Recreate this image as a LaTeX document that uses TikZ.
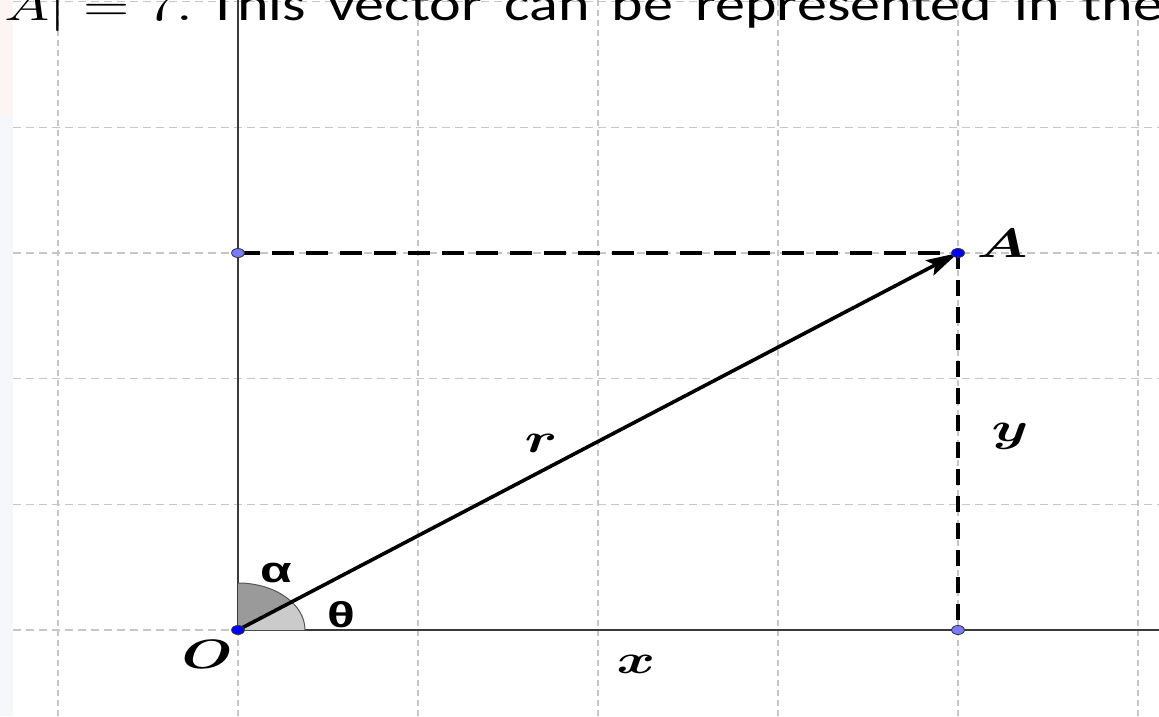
\documentclass[tikz,border=0pt]{standalone}
\usepackage{fontspec}
\usepackage{bm}
\usetikzlibrary{arrows.meta}
\newfontfamily\calibri{Carlito}
\newfontfamily\arialfont{Liberation Sans}
\definecolor{gridc}{HTML}{C6C6C6}
\definecolor{axisc}{HTML}{3A3A3A}
\definecolor{secdark}{HTML}{9A9A9A}
\definecolor{seclight}{HTML}{CBCBCB}
\definecolor{secline}{HTML}{555555}
\definecolor{ptlight}{HTML}{7B7BFF}
\definecolor{stripA}{HTML}{FDF5F3}
\definecolor{stripB}{HTML}{F6F7FB}
\begin{document}
\begin{tikzpicture}[x=1pt,y=1pt,
  gridh/.style={gridc, line width=1.2pt, dash pattern=on 8pt off 5pt},
  gridv/.style={gridc, line width=1.2pt, dash pattern=on 6pt off 4pt},
  axisline/.style={axisc, line width=1.6pt},
  projh/.style={black, line width=3.6pt, dash pattern=on 22pt off 12pt},
  projv/.style={black, line width=3.6pt, dash pattern=on 16pt off 11pt},
  vec/.style={black, line width=3.6pt, -{Stealth[length=32pt,width=17pt,inset=6pt]}},
  ptbase/.style={circle, draw=black!80, line width=0.8pt, inner sep=0pt, minimum size=9pt, xscale=1.43},
  mainpt/.style={ptbase, fill=blue},
  subpt/.style={ptbase, fill=ptlight},
  mlab/.style={inner sep=0pt, anchor=base, xscale=5.86, yscale=4.1},
  glab/.style={inner sep=0pt, anchor=base, xscale=1.43, font=\arialfont\bfseries\fontsize{36}{36}\selectfont},
]
\useasboundingbox (0,0) rectangle (1159,716);
\clip (0,0) rectangle (1159,716);
\fill[white] (0,0) rectangle (1159,716);
\fill[stripA] (0,600) rectangle (13,716);
\fill[stripB] (0,0) rectangle (13,600);

% grid
\foreach \gy in {714.3,588.7,463,337.3,211.7,86}
  \draw[gridh] (13,\gy) -- (1159,\gy);
\foreach \gx in {58,238,418,598,778,958,1138}
  \draw[gridv] (\gx,0) -- (\gx,716);

% key coordinates
\coordinate (o) at (238,86);
\coordinate (a) at (958,463);
\coordinate (py) at (238,463);
\coordinate (px) at (958,86);
\coordinate (ytop) at (238,716);
\coordinate (xend) at (1159,86);

% axes
\draw[axisline] (o) -- (ytop);
\draw[axisline] (o) -- (xend);

% angle sectors
\fill[secdark] (o) -- ++(0,47) arc[start angle=90, end angle=36.87, x radius=67, y radius=47] -- cycle;
\fill[seclight] (o) -- ++(67,0) arc[start angle=0, end angle=36.87, x radius=67, y radius=47] -- cycle;
\draw[secline, line width=1pt] (o) ++(67,0) arc[start angle=0, end angle=90, x radius=67, y radius=47];

% projections
\draw[projh] (py) -- (a);
\draw[projv] (a) -- (px);

% vector
\draw[vec] (o) -- (a);

% points
\node[subpt] (Py) at (py) {};
\node[subpt] (Px) at (px) {};
\node[mainpt] (O) at (o) {};
\node[mainpt] (A) at (a) {};

% labels
\node[mlab] (lO) at (207,48) {$\bm{O}$};
\node[mlab] (lA) at (1002,458) {$\bm{A}$};
\node[mlab] (lr) at (541,264) {$\bm{r}$};
\node[mlab] (lx) at (636,43) {$\bm{x}$};
\node[mlab] (ly) at (1010,275) {$\bm{y}$};
\node[glab] (lalpha) at (276,134) {α};
\node[glab] (ltheta) at (341,89) {θ};

% top text (cut off)
\node[inner sep=0pt, anchor=base east, xscale=6.0, yscale=4.4] (tmath) at (194,695) {$|A|=7.$};
\node[inner sep=0pt, anchor=base west, xscale=1.25, font=\calibri\fontsize{48}{48}\selectfont] (ttext) at (208,695) {\hbox to 764pt{This vector can be represented in the}};
\end{tikzpicture}
\end{document}
